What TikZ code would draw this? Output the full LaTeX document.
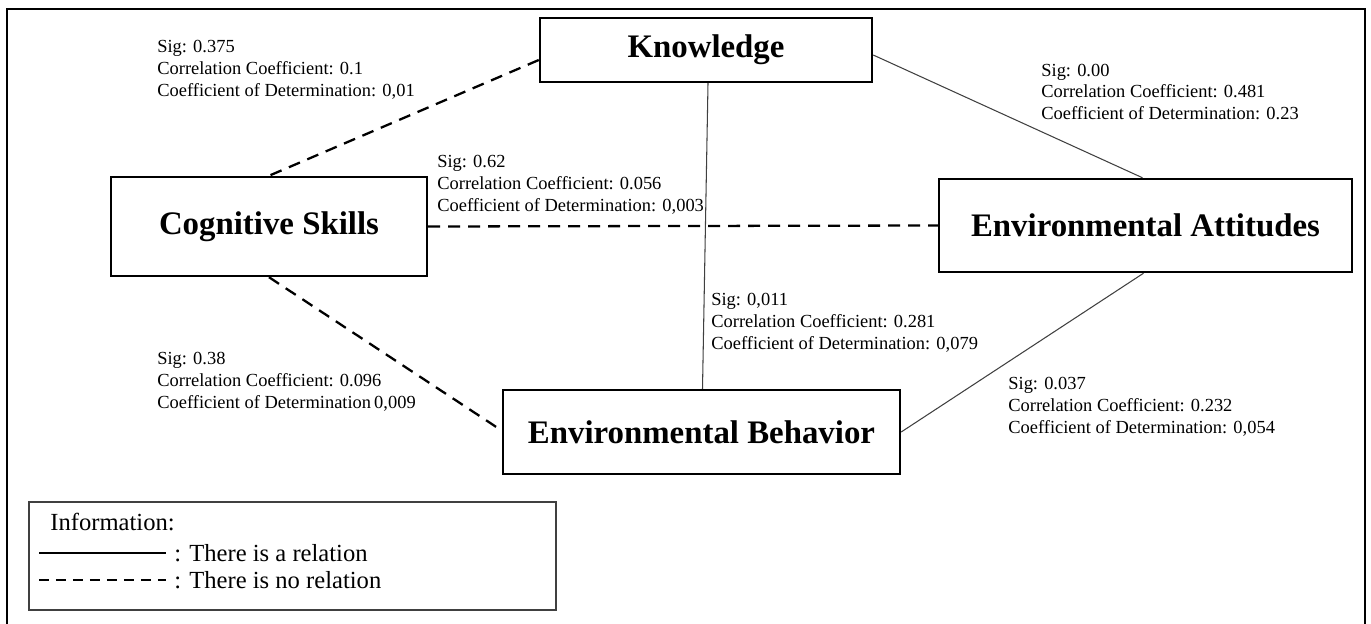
\documentclass[tikz,border=0pt]{standalone}
\usepackage{fontspec}
\setmainfont{Liberation Serif}
\usetikzlibrary{calc}
\begin{document}
\begin{tikzpicture}[x=0.02cm,y=-0.02cm,
  varbox/.style={draw=black,line width=1.4pt,fill=white,inner sep=0pt,
    font=\fontsize{18.7}{22}\selectfont\bfseries},
  norel/.style={draw=black,line width=1.3pt,dash pattern=on 0.24cm off 0.16cm},
  rel/.style={draw=black!75,line width=0.6pt},
  stat/.style={anchor=west,align=left,inner sep=0pt,
    font=\fontsize{10.5}{12.5}\selectfont},
  legtext/.style={anchor=west,inner sep=0pt,font=\fontsize{14}{16}\selectfont}]
\useasboundingbox (0,0) rectangle (1371,624);
\draw[line width=1.1pt] (7,640) -- (7,9) -- (1365,9) -- (1365,640);

\node[varbox,minimum width=6.64cm,minimum height=1.28cm] (K) at (706,50) {Knowledge};
\node[varbox,minimum width=6.32cm,minimum height=1.98cm] (C) at (269,226.5) {Cognitive Skills};
\node[varbox,minimum width=8.26cm,minimum height=1.86cm] (A) at (1145.5,225.5) {Environmental Attitudes};
\node[varbox,minimum width=7.94cm,minimum height=1.68cm] (B) at (701.5,432) {Environmental Behavior};

\draw[norel] ($(K.west)+(0,10)$) -- (C.north);
\draw[norel] (C.east) -- (A.west);
\draw[norel] (C.south) -- ($(B.west)+(-4,-4)$);
\draw[rel] ($(K.south)+(2,0)$) -- ($(B.north)+(1,0)$);
\draw[rel] ($(K.east)+(0,5)$) -- ($(A.north)+(-3,0)$);
\draw[rel] ($(A.south)+(-2,0)$) -- (B.east);

\node[stat] (s1) at (157,70) {Sig: 0.375\\Correlation Coefficient: 0.1\\Coefficient of Determination: 0,01};
\node[stat] (s2) at (437,185) {Sig: 0.62\\Correlation Coefficient: 0.056\\Coefficient of Determination: 0,003};
\node[stat] (s3) at (1041,92) {Sig: 0.00\\Correlation Coefficient: 0.481\\Coefficient of Determination: 0.23};
\node[stat] (s4) at (711,323) {Sig: 0,011\\Correlation Coefficient: 0.281\\Coefficient of Determination: 0,079};
\node[stat] (s5) at (157,382) {Sig: 0.38\\Correlation Coefficient: 0.096\\Coefficient of Determination\,0,009};
\node[stat] (s6) at (1008,407) {Sig: 0.037\\Correlation Coefficient: 0.232\\Coefficient of Determination: 0,054};

\node[draw=black!75,line width=0.8pt,minimum width=10.54cm,minimum height=2.16cm,inner sep=0pt] (L) at (292.5,556) {};
\node[legtext] (li) at (50,522) {Information:};
\coordinate (l1a) at (39,553);
\coordinate (l1b) at (166,553);
\coordinate (l2a) at (39,580);
\coordinate (l2b) at (166,580);
\draw[black,line width=1.3pt] (l1a) -- (l1b);
\draw[black,line width=1.3pt,dash pattern=on 0.2cm off 0.14cm] (l2a) -- (l2b);
\node[legtext] (lt1) at (174,553) {: There is a relation};
\node[legtext] (lt2) at (174,580) {: There is no relation};
\end{tikzpicture}
\end{document}
